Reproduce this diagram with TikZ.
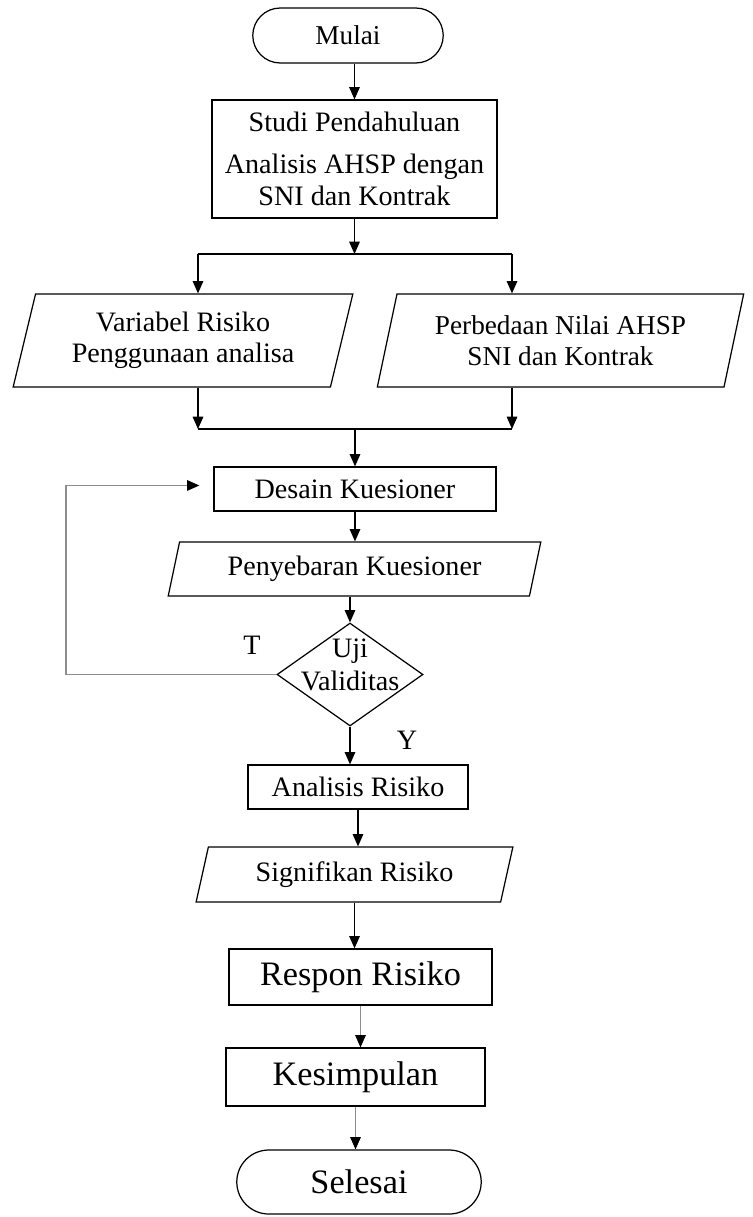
\documentclass[tikz,border=0pt]{standalone}
\usepackage{fontspec}
\setmainfont{Liberation Serif}
\usetikzlibrary{arrows.meta,shapes.geometric,shapes.misc}

\begin{document}
\begin{tikzpicture}[x=0.02cm,y=-0.02cm,line width=0.7pt,
    >={Triangle[length=7pt,width=6pt]},
    base/.style={font=\fontsize{16}{18.5}\selectfont,inner sep=1pt,align=center},
    proses/.style={base,draw,rectangle},
    terminal/.style={base,draw,rounded rectangle,font=\fontsize{19.5}{22}\selectfont},
    data/.style={base,draw,trapezium,trapezium left angle=74,trapezium right angle=106,
      trapezium stretches=true},
    keputusan/.style={base,draw,diamond,inner sep=0pt},
    abu/.style={draw=black!45,-{Triangle[black,length=7pt,width=6pt]}}]
  \useasboundingbox (0,0) rectangle (752,1217);

  % bagian atas
  \node[terminal,font=\fontsize{15.5}{18}\selectfont,minimum width=3.88cm,minimum height=1.1cm]
    (mulai) at (348,35.5) {Mulai};
  \node[proses,minimum width=5.7cm,minimum height=2.36cm] (studi) at (354.5,159)
    {Studi Pendahuluan\\[5.5pt] Analisis AHSP dengan\\ SNI dan Kontrak};
  \node[data,font=\fontsize{16}{17.5}\selectfont,minimum width=6.8cm,minimum height=1.86cm]
    (varrisk) at (183,340.5) {Variabel Risiko\\ Penggunaan analisa};
  \node[data,font=\fontsize{15.5}{17.5}\selectfont,minimum width=7.34cm,minimum height=1.86cm]
    (beda) at (560.5,340.5) {Perbedaan Nilai AHSP\\ SNI dan Kontrak};

  % kuesioner
  \node[proses,minimum width=5.64cm,minimum height=0.88cm] (desain) at (355,489) {Desain Kuesioner};
  \node[data,minimum width=7.46cm,minimum height=1.08cm] (sebar) at (354.5,569) {Penyebaran Kuesioner};
  \node[keputusan,minimum width=2.92cm,minimum height=2.06cm,
    label={[base,yshift=5.5pt]center:{Uji\\ Validitas}}] (uji) at (350,674.5) {};
  \node[base] (lblT) at (252,645) {T};
  \node[base] (lblY) at (407,740) {Y};

  % bagian bawah
  \node[proses,minimum width=4.4cm,minimum height=0.88cm] (analisis) at (358,787) {Analisis Risiko};
  \node[data,minimum width=6.34cm,minimum height=1.1cm] (signif) at (354.5,874.5) {Signifikan Risiko};
  \node[proses,font=\fontsize{19.5}{22}\selectfont,minimum width=5.26cm,minimum height=1.12cm]
    (respon) at (360.5,977) {Respon Risiko};
  \node[proses,font=\fontsize{19.5}{22}\selectfont,minimum width=5.18cm,minimum height=1.16cm]
    (simpul) at (355.5,1077) {Kesimpulan};
  \node[terminal,minimum width=4.96cm,minimum height=1.28cm] (selesai) at (359,1182) {Selesai};

  % cabang dan gabung
  \coordinate (cabang) at (354.5,254);
  \coordinate (kiri) at (198,254);
  \coordinate (kanan) at (512,254);
  \coordinate (gabkiri) at (198,429);
  \coordinate (gabkanan) at (512,429);
  \coordinate (belok) at (66,0);

  \draw[->] (studi.north |- mulai.south) -- (studi.north);
  \draw[->] (studi.south) -- (cabang);
  \draw (kiri) -- (kanan);
  \draw[->] (kiri) -- (kiri |- varrisk.north);
  \draw[->] (kanan) -- (kanan |- beda.north);
  \draw[->] (kiri |- varrisk.south) -- (gabkiri);
  \draw[->] (kanan |- beda.south) -- (gabkanan);
  \draw (gabkiri) -- (gabkanan);
  \draw[->] (desain.north |- gabkiri) -- (desain.north);
  \draw[->] (desain.south) -- (desain.south |- sebar.north);
  \draw[->] (uji.north |- sebar.south) -- (uji.north);
  \draw[abu] (uji.west) -- (uji.west -| belok) |- ([xshift=-8pt,yshift=2pt]desain.west);
  \draw[->] (uji.south) -- (uji.south |- analisis.north);
  \draw[->] (analisis.south) -- (analisis.south |- signif.north);
  \draw[->] (signif.south) -- (signif.south |- respon.north);
  \draw[abu] (respon.south) -- (respon.south |- simpul.north);
  \draw[abu] (simpul.south) -- (simpul.south |- selesai.north);
\end{tikzpicture}
\end{document}
